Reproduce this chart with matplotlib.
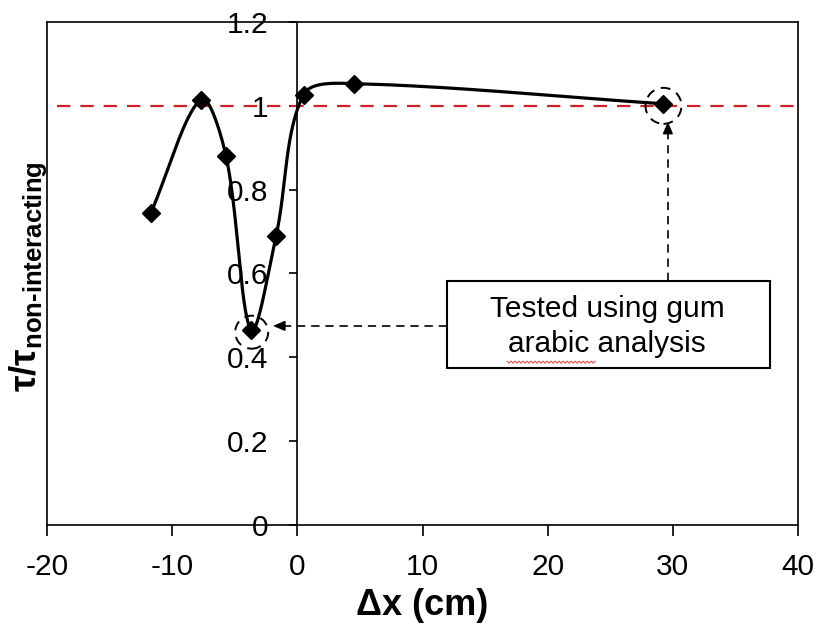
import numpy as np
import matplotlib
matplotlib.use("Agg")
import matplotlib.pyplot as plt
from matplotlib.patches import Ellipse, Rectangle

# ---- data ----
dx = [-11.7, -7.7, -5.7, -3.7, -1.7, 0.5, 4.5, 29.2]
ratio = [0.745, 1.015, 0.88, 0.465, 0.69, 1.027, 1.053, 1.005]
x_ticks = [-20, -10, 0, 10, 20, 30, 40]
y_ticks = [0, 0.2, 0.4, 0.6, 0.8, 1.0, 1.2]
y_tick_labels = ["0", "0.2", "0.4", "0.6", "0.8", "1", "1.2"]
reference_level = 1.0
note_text = "Tested using gum\narabic analysis"
circled = [(-3.7, 0.465), (29.2, 1.005)]

plt.rcParams['font.family'] = ['Liberation Sans', 'DejaVu Sans']
plt.rcParams['mathtext.fontset'] = 'custom'
plt.rcParams['mathtext.rm'] = 'Liberation Sans'
plt.rcParams['mathtext.bf'] = 'Liberation Sans:bold'
plt.rcParams['mathtext.it'] = 'Liberation Sans:italic'

# pixel scale of the axes (used for smoothing and circle sizes)
px_x = 751.0 / 60.0
px_y = 503.0 / 1.2


def smooth_curve(xs, ys, n=80):
    # Excel-like smoothed line: cubic Bezier with chord-weighted tangents in screen space
    P = np.column_stack([np.asarray(xs) * px_x, np.asarray(ys) * px_y]).astype(float)
    P = np.vstack([P[0], P, P[-1]])
    out = []
    t = np.linspace(0, 1, n)[:, None]
    for i in range(1, len(P) - 2):
        p0, p1, p2, p3 = P[i - 1], P[i], P[i + 1], P[i + 2]
        d01 = np.linalg.norm(p1 - p0)
        d12 = np.linalg.norm(p2 - p1)
        d23 = np.linalg.norm(p3 - p2)
        w1 = d12 / (d01 + d12) if d01 + d12 > 0 else 0.5
        w2 = d12 / (d12 + d23) if d12 + d23 > 0 else 0.5
        c1 = p1 + (p2 - p0) * w1 / 3.0
        c2 = p2 - (p3 - p1) * w2 / 3.0
        seg = ((1 - t) ** 3) * p1 + 3 * ((1 - t) ** 2) * t * c1 + 3 * (1 - t) * t ** 2 * c2 + t ** 3 * p2
        out.append(seg)
    out = np.vstack(out)
    return out[:, 0] / px_x, out[:, 1] / px_y


fig = plt.figure(figsize=(8.18, 6.32), dpi=100)
ax = fig.add_axes([0.0575, 0.1693, 0.9181, 0.7959])

ax.set_xlim(-20, 40)
ax.set_ylim(0, 1.2)

# reference line
ax.plot([-19.2, 40], [reference_level, reference_level], color='#d0202a', lw=1.6,
        dashes=(6, 4.5), zorder=2)

# curve
sx, sy = smooth_curve(dx, ratio)
ax.plot(sx, sy, color='black', lw=2.3, zorder=3, solid_capstyle='round')
ax.plot(dx, ratio, linestyle='none', marker='D', color='black', markersize=9, zorder=4)

# dashed circles
radii = [16.5, 18]
for (cx, cy), r in zip(circled, radii):
    e = Ellipse((cx + 0.05, cy - 0.005), 2 * r / px_x, 2 * r / px_y, fill=False,
                edgecolor='black', lw=1.4, linestyle=(0, (5, 3.5)), zorder=5)
    ax.add_patch(e)

# note box
bx0, bx1 = 11.95, 37.75
by0, by1 = 0.3745, 0.582
ax.add_patch(Rectangle((bx0, by0), bx1 - bx0, by1 - by0, fill=True, facecolor='white',
                       edgecolor='black', lw=1.5, zorder=6))
ax.text((bx0 + bx1) / 2 - 0.1, (by0 + by1) / 2 - 0.004, note_text, ha='center', va='center',
        fontsize=21.5, linespacing=1.32, zorder=7)
# spell-check squiggle under "arabic"
wx = np.linspace(16.75, 23.8, 45)
wy = 0.3885 + 0.0025 * np.where(np.arange(45) % 2 == 0, 1, -1)
ax.plot(wx, wy, color='#e04040', lw=0.7, zorder=8)

# arrows
ax.plot([bx0, -1.0], [0.475, 0.475], color='black', lw=1.2, dashes=(5, 3.5), zorder=5)
ax.annotate('', xy=(-1.95, 0.475), xytext=(-1.0, 0.475),
            arrowprops=dict(arrowstyle='-|>,head_length=0.7,head_width=0.3',
                            color='black', lw=1.2, shrinkA=0, shrinkB=0), zorder=5)
ax.plot([29.6, 29.6], [by1, 0.935], color='black', lw=1.2, dashes=(5, 3.5), zorder=5)
ax.annotate('', xy=(29.6, 0.962), xytext=(29.6, 0.935),
            arrowprops=dict(arrowstyle='-|>,head_length=0.7,head_width=0.3',
                            color='black', lw=1.2, shrinkA=0, shrinkB=0), zorder=5)

# axes styling
for s in ['top', 'right', 'bottom']:
    ax.spines[s].set_linewidth(1.2)
ax.spines['left'].set_position(('data', 0))
ax.spines['left'].set_linewidth(1.2)
ax.plot([0, 0], [0, 1], transform=ax.transAxes, color='black', lw=1.2, clip_on=False, zorder=10)

ax.set_xticks(x_ticks)
ax.set_xticklabels([str(v) for v in x_ticks])
ax.set_yticks(y_ticks)
ax.set_yticklabels(y_tick_labels)
ax.tick_params(axis='x', direction='out', length=8, width=1.2, labelsize=21.5, pad=12)
ax.tick_params(axis='y', direction='out', length=6, width=1.2, labelsize=21.5, pad=15)

ax.set_xlabel('Δx (cm)', fontsize=26, fontweight='bold', labelpad=5)
fig.text(0.035, 0.563, r'$\mathbf{τ/τ}_{\mathbf{non}\mathbf{‐}\mathbf{interacting}}$',
         rotation=90, fontsize=26.5, ha='center', va='center')

fig.savefig('out.png', dpi=100)
